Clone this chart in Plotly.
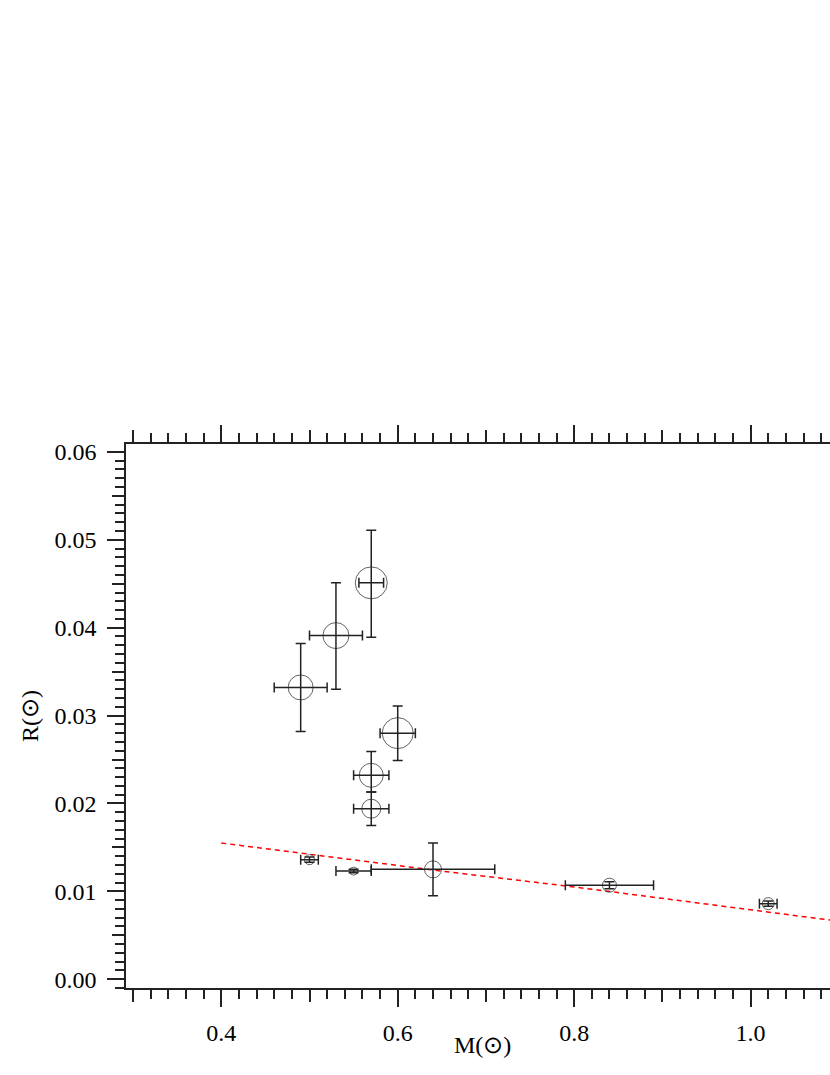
import plotly.graph_objects as go

# white dwarf masses / radii with errors
mass = [0.49, 0.53, 0.57, 0.60, 0.57, 0.57, 0.50, 0.55, 0.64, 0.84, 1.02]
mass_err = [0.03, 0.03, 0.014, 0.02, 0.02, 0.02, 0.01, 0.02, 0.07, 0.05, 0.01]
radius = [0.0332, 0.0391, 0.0451, 0.0280, 0.0232, 0.0194, 0.0136, 0.0123, 0.0125, 0.0107, 0.0086]
radius_err_plus = [0.0050, 0.0060, 0.0060, 0.0031, 0.0027, 0.0019, 0.0003, 0.0002, 0.0030, 0.0004, 0.0003]
radius_err_minus = [0.0050, 0.0061, 0.0062, 0.0031, 0.0019, 0.0019, 0.0003, 0.0002, 0.0030, 0.0004, 0.0003]
circle_size = [25, 26, 32, 31, 24, 19, 10, 8, 17, 14, 12]

# dashed theoretical relation
rel_mass = [0.4, 0.5, 0.65, 0.8, 0.9, 1.0, 1.1]
rel_radius = [0.0155, 0.0142, 0.0123, 0.0105, 0.0092, 0.0079, 0.0066]

ink = "#222222"
font = dict(family="Liberation Serif", size=24, color="black")
xr = [0.292, 1.09]
yr = [-0.001, 0.0609]

fig = go.Figure()

fig.add_trace(go.Scatter(
    x=rel_mass, y=rel_radius, mode="lines",
    line=dict(color="red", width=1.5, dash="5px,4px"),
    showlegend=False, hoverinfo="skip",
))

fig.add_trace(go.Scatter(
    x=mass, y=radius, mode="markers",
    marker=dict(symbol="circle-open", size=circle_size, color=ink, line=dict(width=1, color=ink)),
    error_x=dict(type="data", array=mass_err, thickness=1.5, width=5, color=ink),
    error_y=dict(type="data", array=radius_err_plus, arrayminus=radius_err_minus,
                 symmetric=False, thickness=1.5, width=5, color=ink),
    showlegend=False,
))

# empty trace so the medium-tick overlay axes get drawn
fig.add_trace(go.Scatter(x=[], y=[], xaxis="x2", yaxis="y2", showlegend=False))

fig.update_layout(
    width=830, height=1075,
    margin=dict(l=126, r=0, t=444, b=87),
    paper_bgcolor="white", plot_bgcolor="white",
    font=font,
    xaxis=dict(
        range=xr, tick0=0, dtick=0.2, tickformat=".1f",
        ticks="outside", ticklen=17, tickwidth=1.5, tickcolor=ink,
        minor=dict(dtick=0.02, tick0=0, ticks="outside", ticklen=9, tickwidth=1.5, tickcolor=ink),
        showline=True, linewidth=1.5, linecolor=ink, mirror="ticks",
        showgrid=False, zeroline=False, ticklabelstandoff=5,
    ),
    xaxis2=dict(
        range=xr, overlaying="x", anchor="y", side="bottom",
        tick0=0, dtick=0.1, ticks="outside", ticklen=13, tickwidth=1.5, tickcolor=ink,
        showticklabels=False, showline=False, mirror="ticks",
        showgrid=False, zeroline=False,
    ),
    yaxis=dict(
        range=yr, tick0=0, dtick=0.01, tickformat=".2f",
        ticks="outside", ticklen=17, tickwidth=1.5, tickcolor=ink,
        minor=dict(dtick=0.001, tick0=0, ticks="outside", ticklen=9, tickwidth=1.5, tickcolor=ink),
        showline=True, linewidth=1.5, linecolor=ink,
        showgrid=False, zeroline=False, ticklabelstandoff=6,
        title=dict(text="R(⊙)", standoff=9, font=font),
    ),
    yaxis2=dict(
        range=yr, overlaying="y", anchor="x", side="left",
        tick0=0, dtick=0.005, ticks="outside", ticklen=13, tickwidth=1.5, tickcolor=ink,
        showticklabels=False, showline=False,
        showgrid=False, zeroline=False,
    ),
    annotations=[dict(
        text="M(⊙)", xref="paper", yref="paper", x=0.507, y=-0.105,
        xanchor="center", yanchor="middle", showarrow=False, font=font,
    )],
)

# drop the default page margin so the figure fills the window exactly
fig.write_html(
    "out.html",
    config={"displayModeBar": False},
    post_script="document.body.style.margin='0';document.body.style.overflow='hidden';",
)
